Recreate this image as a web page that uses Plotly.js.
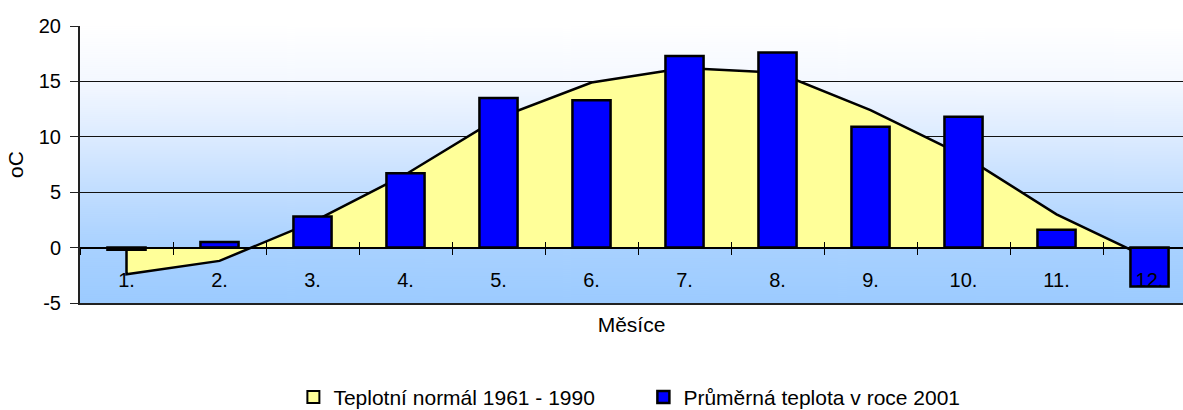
<!DOCTYPE html>
<html>
<head>
<meta charset="utf-8">
<script src="https://cdn.plot.ly/plotly-3.0.1.min.js"></script>
<style>
  html, body { margin: 0; padding: 0; background: #ffffff; }
  #chart { width: 1183px; height: 410px; }
</style>
</head>
<body>
<div id="chart"></div>
<script>
// ---- data ----
var months = ['1.', '2.', '3.', '4.', '5.', '6.', '7.', '8.', '9.', '10.', '11.', '12.'];
var normal19611990 = [-2.4, -1.2, 2.3, 6.6, 11.7, 14.9, 16.2, 15.8, 12.4, 8.3, 3.0, -1.0];
var temp2001 = [-0.2, 0.5, 2.8, 6.7, 13.5, 13.3, 17.3, 17.6, 10.9, 11.8, 1.6, -3.5];
var yTicks = [-5, 0, 5, 10, 15, 20];

var nameNormal = 'Teplotní normál 1961 - 1990';
var name2001 = 'Průměrná teplota v roce 2001';

// ---- background gradient for the plot area ----
function gradientURL() {
  var c = document.createElement('canvas');
  c.width = 8; c.height = 277;
  var g = c.getContext('2d');
  var gr = g.createLinearGradient(0, 0, 0, 277);
  gr.addColorStop(0.0, '#ffffff');
  gr.addColorStop(0.2, '#f4f8ff');
  gr.addColorStop(0.4, '#dcebff');
  gr.addColorStop(0.6, '#c1ddff');
  gr.addColorStop(0.8, '#a8d1ff');
  gr.addColorStop(1.0, '#9ccbff');
  g.fillStyle = gr;
  g.fillRect(0, 0, 8, 277);
  return c.toDataURL('image/png');
}

var FONT = 'Liberation Sans, Arial, sans-serif';

var areaTrace = {
  type: 'scatter',
  mode: 'lines',
  x: [months[0]].concat(months),
  y: [0].concat(normal19611990),
  fill: 'tozeroy',
  fillcolor: '#ffff99',
  line: { color: '#000000', width: 2.5, shape: 'linear' },
  xaxis: 'x', yaxis: 'y',
  name: nameNormal,
  showlegend: false,
  hoverinfo: 'skip'
};

var legendNormal = {
  type: 'bar',
  x: [months[0]],
  y: [null],
  marker: { color: '#ffff99', line: { color: '#000000', width: 2 } },
  xaxis: 'x3', yaxis: 'y',
  name: nameNormal,
  showlegend: true,
  hoverinfo: 'skip'
};

var barTrace = {
  type: 'bar',
  x: months,
  y: temp2001,
  width: 0.41,
  marker: { color: '#0000ff', line: { color: '#000000', width: 2.5 } },
  xaxis: 'x2', yaxis: 'y',
  name: name2001,
  showlegend: true
};

var layout = {
  width: 1183,
  height: 410,
  margin: { l: 80, r: 0, t: 26, b: 107, pad: 0 },
  paper_bgcolor: '#ffffff',
  plot_bgcolor: 'rgba(0,0,0,0)',
  font: { family: FONT, size: 20, color: '#000000' },
  barmode: 'overlay',
  showlegend: true,
  images: [{
    source: gradientURL(),
    xref: 'paper', yref: 'paper',
    x: 0, y: 1, sizex: 1, sizey: 1,
    xanchor: 'left', yanchor: 'top',
    sizing: 'stretch', layer: 'below'
  }],
  xaxis: {
    type: 'category',
    categoryorder: 'array', categoryarray: months,
    range: [-0.5, 11.36],
    showline: true, linecolor: '#222222', linewidth: 2,
    mirror: false,
    ticks: '', showticklabels: false,
    showgrid: false, zeroline: false,
    fixedrange: true,
    automargin: false,
    title: { text: 'Měsíce', font: { family: FONT, size: 21, color: '#000000' }, standoff: 13 }
  },
  xaxis2: {
    type: 'category',
    overlaying: 'x', matches: 'x',
    anchor: 'free', position: 0.2,
    showline: true, linecolor: '#000000', linewidth: 2,
    ticks: 'outside', ticklen: 6, tickwidth: 1, tickcolor: '#000000',
    tickson: 'boundaries',
    showticklabels: true,
    ticklabelstandoff: 14,
    tickfont: { family: FONT, size: 20, color: '#000000' },
    showgrid: false, zeroline: false,
    automargin: false,
    fixedrange: true
  },
  xaxis3: {
    type: 'category',
    overlaying: 'x', matches: 'x',
    anchor: 'free', position: 0.2,
    showline: false,
    ticks: 'inside', ticklen: 6, tickwidth: 1, tickcolor: '#000000',
    tickson: 'boundaries',
    showticklabels: false,
    showgrid: false, zeroline: false,
    automargin: false,
    fixedrange: true
  },
  yaxis: {
    range: [-5, 20],
    tickmode: 'array', tickvals: yTicks, ticktext: yTicks.map(String),
    showline: true, linecolor: '#222222', linewidth: 2,
    ticks: 'outside', ticklen: 8, tickwidth: 1, tickcolor: '#222222',
    ticklabelstandoff: 5,
    tickfont: { family: FONT, size: 20, color: '#000000' },
    showgrid: true, gridcolor: '#111111', gridwidth: 1,
    zeroline: false,
    automargin: false,
    fixedrange: true,
    title: { text: 'oC', font: { family: FONT, size: 21, color: '#000000' }, standoff: 9 }
  },
  legend: {
    orientation: 'h',
    xref: 'container', yref: 'container',
    x: 0.248, xanchor: 'left',
    y: 0.031, yanchor: 'middle',
    entrywidth: 305, entrywidthmode: 'pixels',
    font: { family: FONT, size: 21, color: '#000000' },
    bgcolor: 'rgba(0,0,0,0)',
    borderwidth: 0,
    traceorder: 'normal'
  }
};

Plotly.newPlot('chart', [areaTrace, legendNormal, barTrace], layout, { displayModeBar: false, staticPlot: true });
</script>
</body>
</html>
